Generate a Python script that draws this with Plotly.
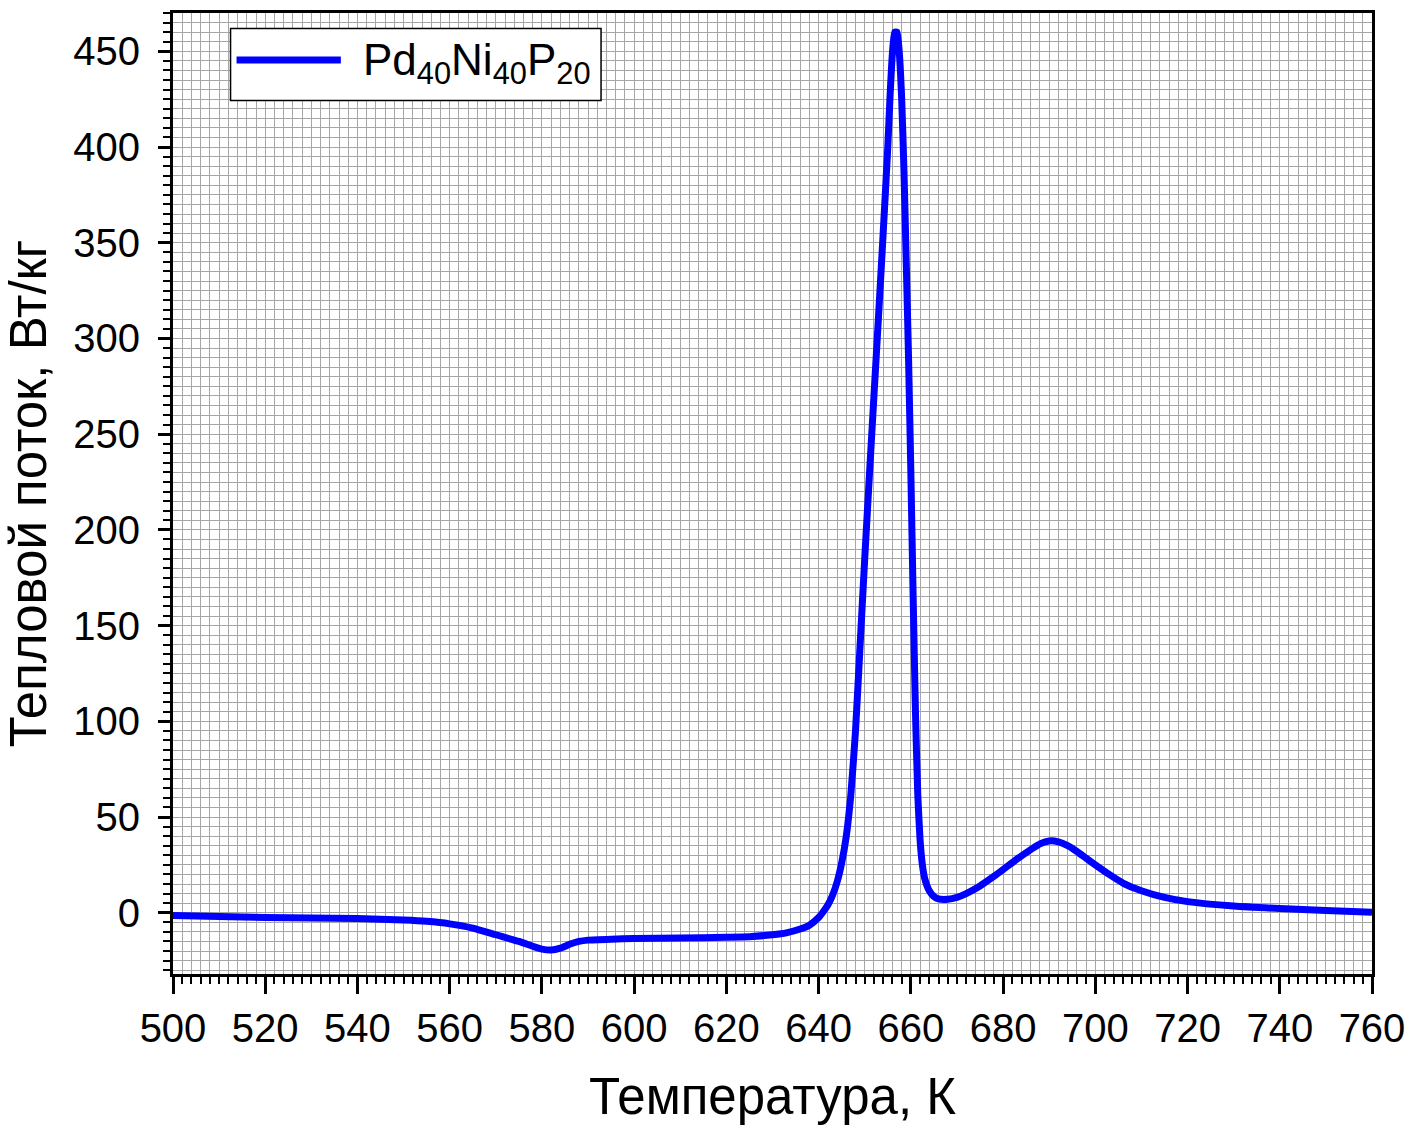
import plotly.graph_objects as go

temperature = [500, 510, 520, 530, 540, 550, 555, 560, 565, 570, 575, 578, 580, 582, 584, 586, 588, 590, 595, 600,
               610, 620, 625, 630, 633, 636, 638, 640, 641, 642, 643, 644, 645, 646, 647, 648, 649, 650, 651, 652,
               653, 654, 655, 655.5, 656, 656.5, 657, 657.5, 658, 658.5, 659, 659.5, 660, 660.5, 661, 661.5, 662,
               662.5, 663, 664, 665, 666, 668, 670, 672, 675, 678, 680, 683, 686, 688, 690, 692, 694, 696, 698, 700,
               703, 706, 710, 715, 720, 730, 740, 750, 760]
heat_flow = [-1.5, -2, -2.5, -2.8, -3, -3.8, -4.5, -5.8, -8, -11.5, -15, -17.5, -19, -19.5, -18.5, -16.5, -15, -14.3, -13.8, -13.5,
             -13.2, -12.8, -12.5, -11.5, -10.5, -8.5, -6.5, -2.5, 0.5, 4, 9, 16, 26, 40, 62, 95, 140, 185, 228, 270,
             312, 355, 400, 427, 449, 460, 460, 449, 426, 388, 340, 290, 230, 165, 105, 62, 38,
             25, 18, 11.5, 8.5, 7.2, 7, 8, 10, 14, 19, 22.5, 28, 33, 36, 37.5, 37, 35, 32, 28.5, 25,
             20, 15.5, 11.5, 8, 5.8, 3.5, 2.2, 1.2, 0.2]

series_name = "Pd<sub>40</sub>Ni<sub>40</sub>P<sub>20</sub>"
x_title = "Температура, К"
y_title = "Тепловой поток, Вт/кг"

FONT = "Arial, 'Liberation Sans', sans-serif"
GRID = "#a6a6a6"

fig = go.Figure()
fig.add_trace(go.Scatter(x=temperature, y=heat_flow, mode="lines",
                         line=dict(color="#0000ff", width=7, shape="spline", smoothing=0.5),
                         name=series_name, showlegend=False))

axis_common = dict(showline=True, linecolor="black", linewidth=3, mirror=True,
                   ticks="outside", tickcolor="black", tickwidth=2.5,
                   showgrid=True, gridcolor=GRID, gridwidth=1, zeroline=False,
                   tickfont=dict(family=FONT, size=40, color="black"),
                   title_font=dict(family=FONT, size=51, color="black"))

fig.update_xaxes(range=[500, 760], tick0=500, dtick=20, ticklen=17,
                 minor=dict(dtick=2, ticks="outside", ticklen=7, tickcolor="black", tickwidth=2,
                            showgrid=True, gridcolor=GRID, gridwidth=1),
                 title_text=x_title, title_standoff=30, **axis_common)
fig.update_yaxes(range=[-32, 470], tick0=0, dtick=50, ticklen=12, ticklabelstandoff=10,
                 minor=dict(dtick=5, tick0=0, ticks="outside", ticklen=7, tickcolor="black", tickwidth=2,
                            showgrid=True, gridcolor=GRID, gridwidth=1),
                 title_text=y_title, title_standoff=14, **axis_common)

# legend box drawn in paper coordinates
fig.add_shape(type="rect", xref="paper", yref="paper", x0=0.048, x1=0.357, y0=0.909, y1=0.984,
              line=dict(color="black", width=1.5), fillcolor="white", layer="above")
fig.add_shape(type="line", xref="paper", yref="paper", x0=0.053, x1=0.140, y0=0.951, y1=0.951,
              line=dict(color="#0000ff", width=7), layer="above")
fig.add_annotation(xref="paper", yref="paper", x=0.157, y=0.948, xanchor="left", yanchor="middle",
                   text=series_name, showarrow=False, font=dict(family=FONT, size=44, color="black"))

fig.update_layout(width=1415, height=1131, margin=dict(l=173, r=43, t=10, b=157),
                  plot_bgcolor="white", paper_bgcolor="white", showlegend=False)

fig.write_html("out.html")
